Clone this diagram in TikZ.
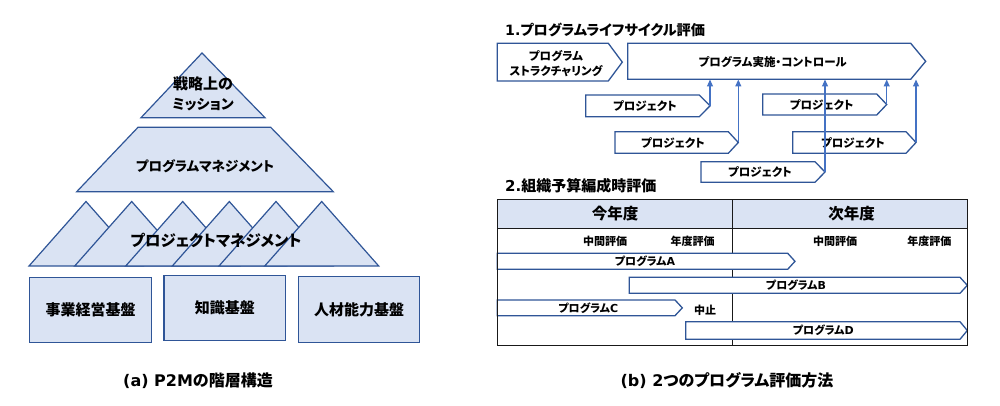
\documentclass[tikz,border=0pt]{standalone}
\usepackage{fontspec}
\setmainfont{Noto Sans CJK JP}[RawFeature=+palt]
\newfontfamily\lat{DejaVu Sans}
\usetikzlibrary{arrows.meta,fit}
\definecolor{fillb}{HTML}{DAE3F3}
\definecolor{edgeb}{HTML}{2F5597}
\definecolor{conn}{HTML}{4472C4}
\newcommand\pent[7]{%
  \draw[#7] (#2,#3) -- (#4,#3) -- (#6,{(#3+#5)/2}) -- (#4,#5) -- (#2,#5) -- cycle;
  \node[inner sep=0, fit={(#2,#3) (#6,#5)}] (#1) {};
  \coordinate (#1-tip) at (#6,{(#3+#5)/2});
}
\tikzset{
  shapeb/.style={fill=fillb, draw=edgeb, line width=1.2pt, line join=miter},
  arrb/.style={fill=white, draw=edgeb, line width=1.3pt, line join=miter},
  conline/.style={draw=conn, line width=1.2pt, -{Triangle[width=6pt,length=7pt]}},
  txtL/.style={font=\fontsize{15}{20}\selectfont\bfseries, inner sep=0, align=center},
  txtK/.style={font=\fontsize{13.5}{20}\selectfont\bfseries, inner sep=0, align=center},
  txtM/.style={font=\fontsize{11.5}{14.5}\selectfont\bfseries, inner sep=0, align=center},
  txtS/.style={font=\fontsize{11}{13}\selectfont\bfseries, inner sep=0, align=center},
  ttl/.style={font=\fontsize{15}{18}\selectfont\bfseries, inner sep=0, anchor=west},
  captxt/.style={font=\fontsize{16}{19}\selectfont\bfseries, inner sep=0},
  tbl/.style={draw=black!90, line width=1pt},
}
\begin{document}
\begin{tikzpicture}[x=1pt,y=-1pt]
\useasboundingbox (0,0) rectangle (1000,406);
% ---------- (a) hierarchy ----------
\draw[shapeb] (202,53) -- (265,117.7) -- (141,117.7) -- cycle;
\node[txtL] (mission) at (203,94) {戦略上の\\\fontsize{14}{20}\selectfont ミッション};
\draw[shapeb] (138,127.3) -- (270.7,127.3) -- (333.3,191.7) -- (76.7,191.7) -- cycle;
\node[txtK] (pgm) at (205,166) {プログラムマネジメント};
\foreach \ax in {86,131.7,182.7,229.3,276,321.7}{
  \draw[shapeb] (\ax,201.5) -- (\ax+57,266) -- (\ax-57,266) -- cycle;
}
\node[txtL, font=\fontsize{15.4}{20}\selectfont\bfseries] (pjm) at (216,240) {プロジェクトマネジメント};
\node[shapeb, minimum width=122.4pt, minimum height=65.4pt, inner sep=0] (b1) at (90.5,310) {};
\node[txtL] (b1t) at (b1) {事業経営基盤};
\node[shapeb, minimum width=121.7pt, minimum height=65.4pt, inner sep=0] (b2) at (224.8,308) {};
\node[txtL] (b2t) at (b2) {知識基盤};
\node[shapeb, minimum width=121.5pt, minimum height=65.4pt, inner sep=0] (b3) at (359,309.5) {};
\node[txtL] (b3t) at (b3) {人材能力基盤};
\node[captxt] (capa) at (198,380.5) {{\lat\bfseries (a) P2M}の階層構造};
% ---------- (b) top: lifecycle ----------
\node[ttl, font=\fontsize{14.2}{18}\selectfont\bfseries] (t1) at (505,30) {{\lat\bfseries 1.}プログラムライフサイクル評価};
\pent{ps}{497.3}{43.3}{608.3}{81}{622.3}{arrb}
\node[txtM] (pst) at (556,63.5) {プログラム\\ストラクチャリング};
\pent{impl}{627.7}{43.3}{910.7}{79.3}{925.7}{arrb}
\node[txtM] (implt) at (772.7,61.7) {プログラム実施・コントロール};
\pent{p1}{585.7}{95}{699.3}{116.7}{710}{arrb}
\node[txtM] (p1t) at (645,106) {プロジェクト};
\pent{p2}{615}{131.7}{728.3}{153.3}{738.3}{arrb}
\node[txtM] (p2t) at (673,142.5) {プロジェクト};
\pent{p4}{762.7}{94}{876.7}{115}{886.7}{arrb}
\node[txtM] (p4t) at (821.7,104.5) {プロジェクト};
\pent{p5}{792.7}{131.7}{906}{153.3}{916}{arrb}
\node[txtM] (p5t) at (853,142.5) {プロジェクト};
\pent{p3}{701}{161.7}{815}{182.3}{825}{arrb}
\node[txtM] (p3t) at (760,172) {プロジェクト};
\foreach \p in {p1,p2,p3,p4,p5}{
  \draw[conline] (\p-tip) -- (\p-tip |- impl.south);
}
% ---------- (b) bottom: budget ----------
\node[ttl] (t2) at (505,186) {{\lat\bfseries 2.}組織予算編成時評価};
\fill[fillb] (497.3,200) rectangle (967.3,228.3);
\node[inner sep=0, fit={(497.3,200) (967.3,345)}] (tab) {};
\coordinate (divtop) at (732.3,200);
\coordinate (divbot) at (732.3,345);
\draw[tbl] (divtop) -- (divbot);
\draw[tbl] (497.3,228.3) -- (967.3,228.3);
\node[txtL, font=\fontsize{15.5}{17}\selectfont\bfseries] (ty) at (615,213.5) {今年度};
\node[txtL, font=\fontsize{15.5}{17}\selectfont\bfseries] (ny) at (851.7,213.5) {次年度};
\node[txtS] (m1) at (605,241.7) {中間評価};
\node[txtS] (y1) at (692.7,241.7) {年度評価};
\node[txtS] (m2) at (835,241.7) {中間評価};
\node[txtS] (y2) at (929.3,241.7) {年度評価};
\pent{pa}{497.3}{253.3}{787.7}{269.3}{795}{arrb}
\node[txtS] (pat) at (645,261.3) {プログラム{\lat\bfseries A}};
\pent{pb}{629.3}{277.3}{960}{293.3}{967.3}{arrb}
\node[txtS] (pbt) at (796,285.3) {プログラム{\lat\bfseries B}};
\pent{pc}{497.3}{300}{675}{315.7}{682.3}{arrb}
\node[txtS] (pct) at (588.3,308) {プログラム{\lat\bfseries C}};
\node[txtS] (stop) at (705,310.5) {中止};
\pent{pd}{685.7}{321.7}{960}{339.3}{967.3}{arrb}
\node[txtS] (pdt) at (823.3,330.5) {プログラム{\lat\bfseries D}};
\draw[tbl] (tab.north west) rectangle (tab.south east);
\node[captxt] (capb) at (727,380.5) {{\lat\bfseries (b)\ 2}つのプログラム評価方法};
\end{tikzpicture}
\end{document}
